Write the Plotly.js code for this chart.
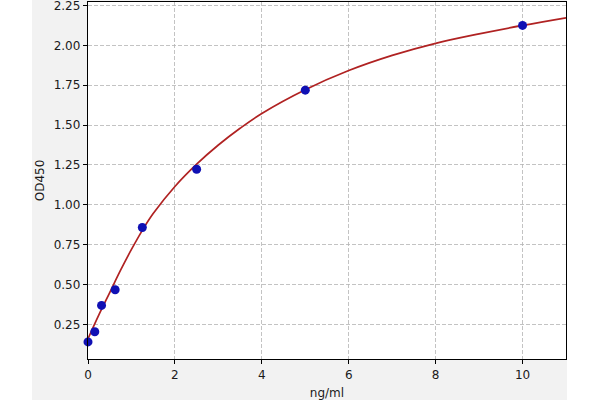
<!DOCTYPE html>
<html>
<head>
<meta charset="utf-8">
<script src="https://cdn.plot.ly/plotly-3.0.1.min.js"></script>
<style>
  html, body { margin: 0; padding: 0; background: #fff; }
  #plotdiv { width: 600px; height: 400px; }
</style>
</head>
<body>
<div id="plotdiv"></div>
<script>
'use strict'

// standard points (concentration in ng/ml, OD450)
const stdConc = [0, 0.156, 0.312, 0.625, 1.25, 2.5, 5, 10]
const stdOD = [0.14, 0.204, 0.369, 0.467, 0.858, 1.223, 1.719, 2.125]

// fitted curve
const fitConc = [0, 0.25, 0.5, 0.75, 1, 1.25, 1.5, 2, 2.5, 3, 3.5, 4, 5, 6, 7, 8, 9, 10, 11]
const fitOD = [0.16, 0.31, 0.45, 0.59, 0.72, 0.84, 0.945, 1.115, 1.255, 1.375, 1.48, 1.573, 1.722, 1.842, 1.937, 2.013, 2.072, 2.125, 2.173]

const xTicks = [0, 2, 4, 6, 8, 10]
const yTicks = [0.25, 0.5, 0.75, 1.0, 1.25, 1.5, 1.75, 2.0, 2.25]

const font = {family: 'DejaVu Sans', size: 12, color: '#1a1a1a'}

let traces = [
  {
    x: fitConc, y: fitOD, mode: 'lines',
    line: {color: '#b02222', width: 1.7, shape: 'spline', smoothing: 1},
    hoverinfo: 'skip'
  },
  {
    x: stdConc, y: stdOD, mode: 'markers',
    marker: {color: '#1010b4', size: 9},
    cliponaxis: false
  }
]

const axisCommon = {
  showline: true, mirror: true, linecolor: '#000', linewidth: 1.2,
  ticks: 'outside', ticklen: 4, tickcolor: '#000', tickwidth: 1,
  showgrid: true, gridcolor: '#b4b4b4', gridwidth: 0.8, griddash: '4px,2px',
  zeroline: false, tickfont: font, automargin: false, ticklabeloverflow: 'allow'
}

let layout = {
  width: 600, height: 400,
  margin: {l: 88, r: 34, t: 2, b: 41},
  paper_bgcolor: '#f2f2f2',
  plot_bgcolor: '#fff',
  showlegend: false,
  hovermode: false,
  font: font,
  xaxis: Object.assign({}, axisCommon, {
    range: [0, 11],
    tickvals: xTicks,
    ticktext: xTicks.map(String),
    title: {text: 'ng/ml', font: font, standoff: 8}
  }),
  yaxis: Object.assign({}, axisCommon, {
    range: [0.033, 2.272],
    tickvals: yTicks,
    ticktext: yTicks.map(v => v.toFixed(2)),
    title: {text: 'OD450', font: font, standoff: 6}
  }),
  shapes: [
    // white strips outside the grey figure area
    {type: 'rect', xref: 'paper', yref: 'paper', x0: -0.3, x1: -0.1172, y0: -0.3, y1: 1.3,
      fillcolor: '#fff', line: {width: 0}, layer: 'below'},
    {type: 'rect', xref: 'paper', yref: 'paper', x0: 1.002, x1: 1.3, y0: -0.3, y1: 1.3,
      fillcolor: '#fff', line: {width: 0}, layer: 'below'}
  ]
}

let config = {displaylogo: false, displayModeBar: false, staticPlot: true}

Plotly.newPlot('plotdiv', traces, layout, config)
</script>
</body>
</html>
